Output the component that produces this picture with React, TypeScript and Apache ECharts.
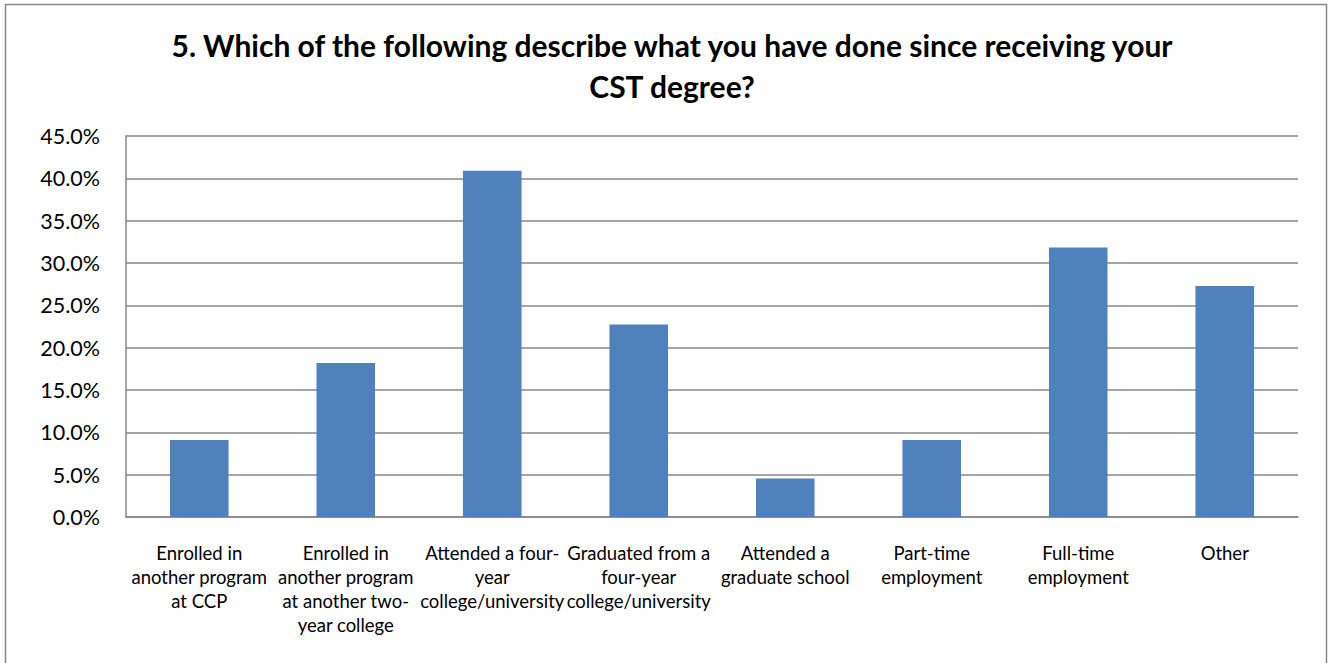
import React, { useEffect, useRef } from "react";
import * as echarts from "echarts";

const titleText =
  "5. Which of the following describe what you have done since receiving your\nCST degree?";

const categories = [
  "Enrolled in\nanother program\nat CCP",
  "Enrolled in\nanother program\nat another two-\nyear college",
  "Attended a four-\nyear\ncollege/university",
  "Graduated from a\nfour-year\ncollege/university",
  "Attended a\ngraduate school",
  "Part-time\nemployment",
  "Full-time\nemployment",
  "Other",
];

const values = [9.09, 18.18, 40.91, 22.73, 4.55, 9.09, 31.82, 27.27];

const yMin = 0;
const yMax = 45;
const yInterval = 5;

export default function App() {
  const ref = useRef<HTMLDivElement>(null);
  useEffect(() => {
    if (!ref.current) return;
    const chart = echarts.init(ref.current, undefined, { renderer: "svg" });
    const font = "Lato, 'Liberation Sans', sans-serif";
    chart.setOption({
      animation: false,
      backgroundColor: "#ffffff",
      title: {
        text: titleText,
        left: 667,
        top: 19,
        textAlign: "center",
        textStyle: {
          fontFamily: font,
          fontWeight: "bold",
          fontSize: 30,
          lineHeight: 41,
          color: "#000000",
        },
      },
      graphic: [
        {
          type: "rect",
          shape: { x: 5.5, y: 4.5, width: 1321, height: 700 },
          style: { fill: "none", stroke: "#878787", lineWidth: 1.5 },
          silent: true,
        },
      ],
      grid: { left: 126, right: 31, top: 136, bottom: 146, containLabel: false },
      xAxis: {
        type: "category",
        data: categories,
        axisLine: { lineStyle: { color: "#878787", width: 1.5 } },
        axisTick: { show: false },
        axisLabel: {
          interval: 0,
          fontFamily: font,
          fontSize: 18.5,
          lineHeight: 24,
          color: "#000000",
          margin: 24,
          verticalAlign: "top",
        },
      },
      yAxis: {
        type: "value",
        min: yMin,
        max: yMax,
        interval: yInterval,
        axisLine: { show: true, lineStyle: { color: "#878787", width: 1.5 } },
        axisTick: { show: false },
        splitLine: { lineStyle: { color: "#878787", width: 1.5 } },
        axisLabel: {
          fontFamily: font,
          fontSize: 21.5,
          color: "#000000",
          margin: 26,
          formatter: (v: number) => v.toFixed(1) + "%",
        },
      },
      series: [
        {
          type: "bar",
          data: values,
          barWidth: "40%",
          itemStyle: { color: "#4F81BD" },
        },
      ],
    });
    return () => chart.dispose();
  }, []);
  return (
    <div
      ref={ref}
      style={{ position: "fixed", left: 0, top: 0, width: 1329, height: 663 }}
    />
  );
}
